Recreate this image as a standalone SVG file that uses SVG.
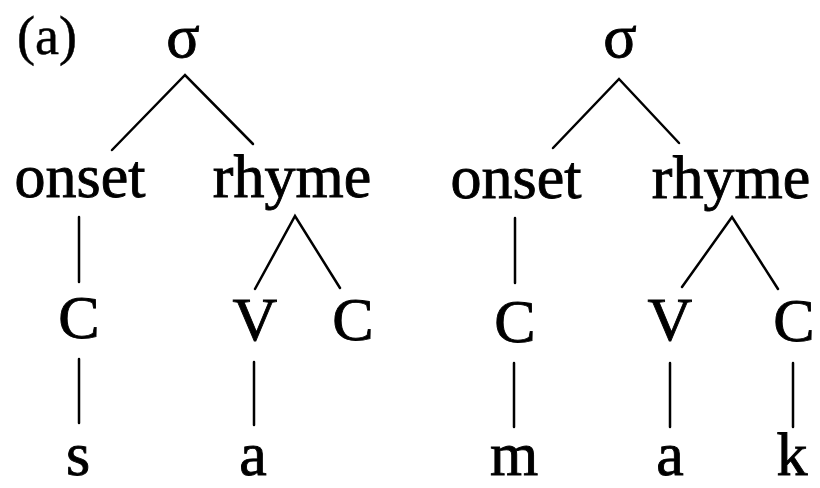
<svg xmlns="http://www.w3.org/2000/svg" width="820" height="488" viewBox="0 0 820 488">
<style>
text{font-family:"Liberation Serif","Times New Roman",serif;font-size:62px;fill:#000;stroke:#000;stroke-width:0.9;text-anchor:middle}
.e{stroke:#000;stroke-width:2.5;fill:none;stroke-linecap:round}
</style>
<rect width="820" height="488" fill="#fff"/>
<g id="label-a"><text x="17" y="54" style="text-anchor:start;font-size:54px;stroke-width:0.5">(a)</text></g>
<g id="connectors">
<path class="e" d="M112 150 L185 75 L253 144"/>
<path class="e" d="M79 217 V282"/>
<path class="e" d="M255 289 L295 216 L340 288"/>
<path class="e" d="M79 359 V423"/>
<path class="e" d="M254 362 V425"/>
<path class="e" d="M553 148 L619 79 L679 143"/>
<path class="e" d="M515 218 V283"/>
<path class="e" d="M682 287 L732 217 L778 289"/>
<path class="e" d="M514 363 V427"/>
<path class="e" d="M670 363 V427"/>
<path class="e" d="M793 363 V427"/>
</g>
<g id="t1-sigma"><text x="183" y="57">σ</text></g>
<g id="t1-onset"><text x="80" y="197">onset</text></g>
<g id="t1-rhyme"><text x="292" y="197">rhyme</text></g>
<g id="t1-C1"><text x="79" y="338">C</text></g>
<g id="t1-V"><text x="255" y="340">V</text></g>
<g id="t1-C2"><text x="353" y="340">C</text></g>
<g id="t1-s"><text x="78" y="475">s</text></g>
<g id="t1-a"><text x="253" y="475">a</text></g>
<g id="t2-sigma"><text x="620" y="57">σ</text></g>
<g id="t2-onset"><text x="516" y="198">onset</text></g>
<g id="t2-rhyme"><text x="731" y="198">rhyme</text></g>
<g id="t2-C1"><text x="515" y="342">C</text></g>
<g id="t2-V"><text x="670" y="340">V</text></g>
<g id="t2-C2"><text x="794" y="341">C</text></g>
<g id="t2-m"><text x="514" y="475">m</text></g>
<g id="t2-a"><text x="670" y="475">a</text></g>
<g id="t2-k"><text x="792" y="475">k</text></g>
</svg>
